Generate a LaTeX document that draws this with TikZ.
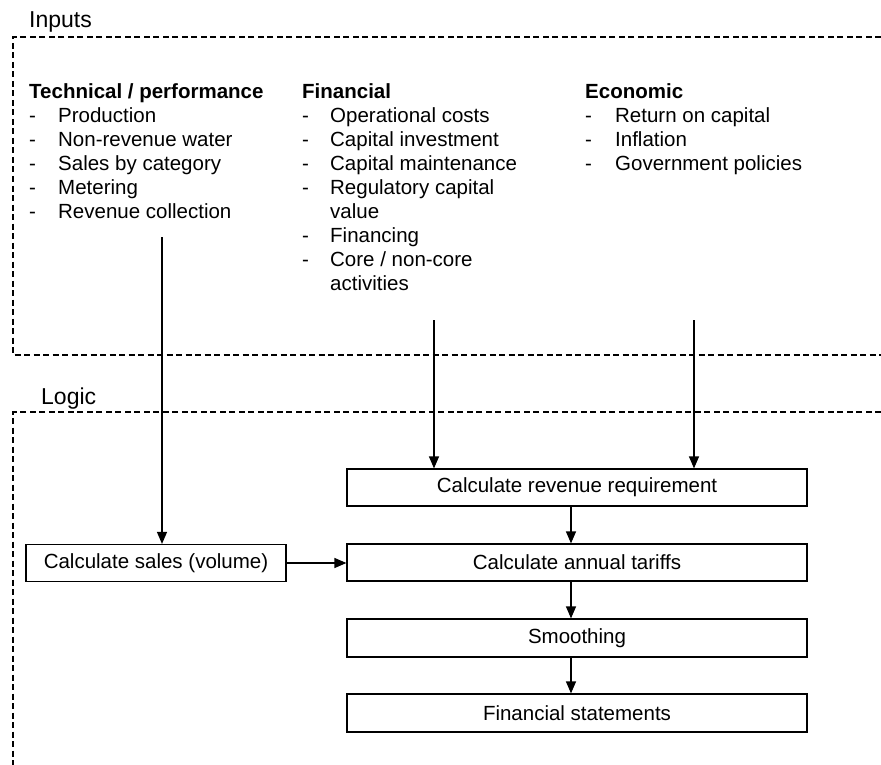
\documentclass[tikz,border=0pt]{standalone}
\usepackage{fontspec}
\setmainfont{Liberation Sans}
\usepackage{tikz}
\usetikzlibrary{arrows.meta}

\begin{document}
\begin{tikzpicture}[x=1pt, y=-1pt,
    region/.style={line width=1.3pt, dash pattern=on 6pt off 3.5pt},
    calcbox/.style={draw, line width=1.2pt, inner sep=0pt, minimum height=37pt, font=\fontsize{20.5}{24}\selectfont},
    flow/.style={line width=1.2pt, -{Triangle[length=12pt,width=10pt]}},
    column/.style={anchor=base west, inner sep=0pt, font=\fontsize{20.5}{24}\selectfont},
    heading/.style={anchor=base west, inner sep=0pt, font=\fontsize{23}{27}\selectfont}]
    \useasboundingbox (0,0) rectangle (881,765);

    % Regions
    \draw[region] (881,37) -- (13,37) -- (13,355) -- (881,355);
    \draw[region] (881,412) -- (13,412) -- (13,765);
    \node[heading] (inputs) at (29,28) {Inputs};
    \node[heading] (logic) at (41,404) {Logic};

    % Input columns
    \node[column] (technical) at (29,99) {\begin{tabular}[t]{@{}l@{}l@{}}
        \multicolumn{2}{@{}l@{}}{\bfseries Technical / performance}\\
        \makebox[29pt][l]{-} & Production\\
        - & Non-revenue water\\
        - & Sales by category\\
        - & Metering\\
        - & Revenue collection
    \end{tabular}};
    \node[column] (financial) at (302,99) {\begin{tabular}[t]{@{}l@{}l@{}}
        \multicolumn{2}{@{}l@{}}{\bfseries Financial}\\
        \makebox[28pt][l]{-} & Operational costs\\
        - & Capital investment\\
        - & Capital maintenance\\
        - & Regulatory capital\\
          & value\\
        - & Financing\\
        - & Core / non-core\\
          & activities
    \end{tabular}};
    \node[column] (economic) at (585,99) {\begin{tabular}[t]{@{}l@{}l@{}}
        \multicolumn{2}{@{}l@{}}{\bfseries Economic}\\
        \makebox[30pt][l]{-} & Return on capital\\
        - & Inflation\\
        - & Government policies
    \end{tabular}};
    \coordinate (techout) at (162,237);
    \coordinate (finout) at (434,320);
    \coordinate (ecoout) at (694,320);

    % Logic boxes
    \node[calcbox, minimum width=460pt] (revenue) at (577,487.5) {Calculate revenue requirement};
    \node[calcbox, minimum width=460pt] (tariffs) at (577,562.5) {Calculate annual tariffs};
    \node[calcbox, minimum width=460pt, minimum height=38pt] (smoothing) at (577,638) {Smoothing};
    \node[calcbox, minimum width=460pt, minimum height=38pt] (statements) at (577,713) {Financial statements};
    \node[calcbox, minimum width=260pt] (sales) at (156,563) {Calculate sales (volume)};

    % Connectors
    \draw[flow] (techout) -- (techout |- sales.north);
    \draw[flow] (finout) -- (finout |- revenue.north);
    \draw[flow] (ecoout) -- (ecoout |- revenue.north);
    \draw[flow] (sales.east) -- (sales.east -| tariffs.west);
    \draw[flow] ([xshift=-6pt]revenue.south) -- ([xshift=-6pt]tariffs.north);
    \draw[flow] ([xshift=-6pt]tariffs.south) -- ([xshift=-6pt]smoothing.north);
    \draw[flow] ([xshift=-6pt]smoothing.south) -- ([xshift=-6pt]statements.north);
\end{tikzpicture}
\end{document}
